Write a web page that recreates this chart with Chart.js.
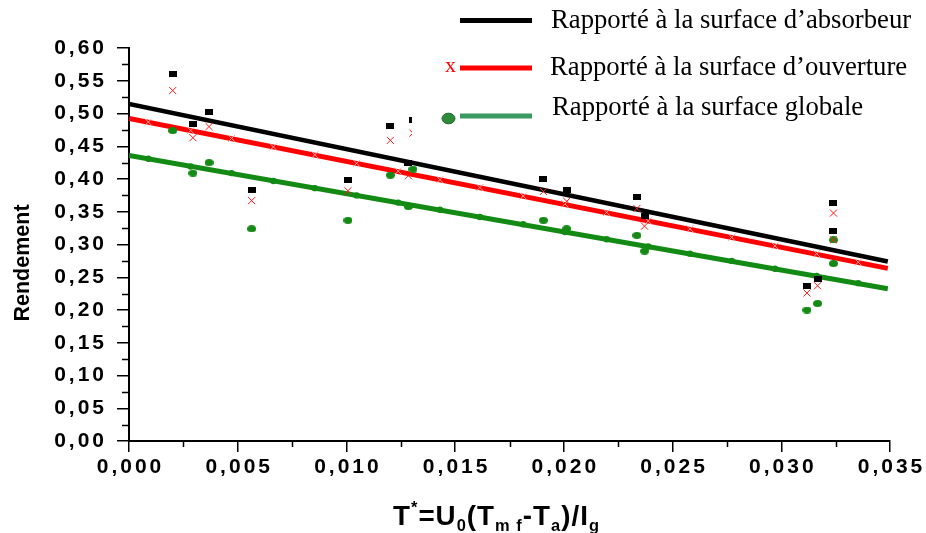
<!DOCTYPE html>
<html>
<head>
<meta charset="utf-8">
<script src="https://cdn.jsdelivr.net/npm/chart.js@4/dist/chart.umd.min.js"></script>
<style>
  html, body { margin: 0; padding: 0; background: #fff; }
  #wrap { position: relative; width: 926px; height: 533px; }
</style>
</head>
<body>
<div id="wrap"><canvas id="chart" width="926" height="533"></canvas></div>
<script>
// Mesures : T* et rendement rapporté aux trois surfaces
const tStar = [0.00201, 0.00294, 0.00368, 0.00564, 0.01007, 0.01202, 0.01285, 0.01306,
               0.01906, 0.02013, 0.02336, 0.02371, 0.03118, 0.03167, 0.0324, 0.0324];
const rendAbsorbeur = [0.560, 0.484, 0.503, 0.383, 0.399, 0.481, 0.424, 0.490,
                       0.400, 0.383, 0.372, 0.344, 0.237, 0.248, 0.364, 0.321];
const rendOuverture = [0.535, 0.463, 0.480, 0.367, 0.382, 0.459, 0.405, 0.470,
                       0.381, 0.366, 0.355, 0.328, 0.226, 0.237, 0.348, 0.307];
const rendGlobale = [0.474, 0.409, 0.425, 0.324, 0.337, 0.406, 0.358, 0.415,
                     0.337, 0.324, 0.314, 0.290, 0.200, 0.210, 0.307, 0.271];

// Droites de régression (extrémités)
const fitX = [0, 0.0349];
const fitAbsorbeur = [0.5145, 0.274];
const fitOuverture = [0.4925, 0.2635];
const fitGlobale = [0.436, 0.2325];

// Symboles posés le long des droites
const fitMarkX = [0.00089, 0.00284, 0.00472, 0.00664, 0.00855, 0.01047, 0.01238, 0.0143, 0.01614,
                  0.01813, 0.02005, 0.02197, 0.02388, 0.0258, 0.02772, 0.02971, 0.03163, 0.03354];
const fitMarkOuverture = [0.487, 0.474, 0.462, 0.449, 0.437, 0.424, 0.412, 0.399, 0.387,
                          0.374, 0.362, 0.349, 0.336, 0.324, 0.311, 0.298, 0.286, 0.273];
const fitMarkGlobale = [0.431, 0.419, 0.409, 0.397, 0.386, 0.375, 0.364, 0.353, 0.342,
                        0.331, 0.319, 0.308, 0.297, 0.286, 0.275, 0.263, 0.252, 0.241];

const legendLabels = [
  'Rapporté à la surface d\u2019absorbeur',
  'Rapporté à la surface d\u2019ouverture',
  'Rapporté à la surface globale'
];

const GREEN = '#138a13';
const SANS = '"Liberation Sans", Arial, Helvetica, sans-serif';

function pts(xs, ys) {
  return xs.map((x, i) => ({ x: x, y: ys[i] }));
}

// small filled shapes used as point styles
function markerCanvas(w, h, draw) {
  const c = document.createElement('canvas');
  c.width = w; c.height = h;
  draw(c.getContext('2d'), w, h);
  return c;
}
const squareMark = markerCanvas(8, 6, (g, w, h) => { g.fillStyle = '#000'; g.fillRect(0, 0, w, h); });
const dotMark = markerCanvas(9, 7, (g, w, h) => {
  g.fillStyle = GREEN;
  g.beginPath(); g.ellipse(w / 2, h / 2, w / 2, h / 2, 0, 0, Math.PI * 2); g.fill();
});

// minor ticks, axis titles and the boxed legend
const decorPlugin = {
  id: 'decor',
  beforeDraw(chart) {
    chart.ctx.letterSpacing = '3px';
  },
  afterDraw(chart) {
    const ctx = chart.ctx;
    const xs = chart.scales.x, ys = chart.scales.y;
    const area = chart.chartArea;
    ctx.save();
    ctx.letterSpacing = '0px';

    // minor ticks
    ctx.strokeStyle = '#000';
    ctx.lineWidth = 1.5;
    ctx.beginPath();
    for (let v = 0.025; v < 0.6; v += 0.05) {
      const py = Math.round(ys.getPixelForValue(v)) + 0.5;
      ctx.moveTo(area.left, py); ctx.lineTo(area.left - 7, py);
    }
    for (let v = 0.0025; v < 0.035; v += 0.005) {
      const px = Math.round(xs.getPixelForValue(v)) + 0.5;
      ctx.moveTo(px, area.bottom); ctx.lineTo(px, area.bottom + 6);
    }
    ctx.stroke();

    // y title
    ctx.fillStyle = '#000';
    ctx.font = 'bold 21.5px ' + SANS;
    ctx.textAlign = 'center';
    ctx.textBaseline = 'middle';
    ctx.save();
    ctx.translate(23, 263);
    ctx.rotate(-Math.PI / 2);
    ctx.fillText('Rendement', 0, 0);
    ctx.restore();

    // x title with sub/superscripts, narrowed horizontally
    const parts = [
      ['T', 0], ['*', -1], ['=U', 0], ['0', 1], ['(T', 0], ['m f', 1],
      ['-T', 0], ['a', 1], [')/I', 0], ['g', 1]
    ];
    const mainFont = 'bold 27px ' + SANS;
    const smallFont = 'bold 16px ' + SANS;
    ctx.letterSpacing = '1px';
    ctx.textAlign = 'left';
    ctx.textBaseline = 'alphabetic';
    let total = 0;
    parts.forEach(p => { ctx.font = p[1] ? smallFont : mainFont; total += ctx.measureText(p[0]).width; });
    const sx = 207 / total;
    ctx.save();
    ctx.translate(393, 525);
    ctx.scale(sx, 1);
    let cx = 0;
    parts.forEach(p => {
      ctx.font = p[1] ? smallFont : mainFont;
      const dy = p[1] === 1 ? 6 : (p[1] === -1 ? -12 : 0);
      ctx.fillText(p[0], cx, dy);
      cx += ctx.measureText(p[0]).width;
    });
    ctx.restore();
    ctx.letterSpacing = '0px';

    // legend box
    ctx.fillStyle = '#fff';
    ctx.fillRect(412, 0, chart.width - 412, 141);
    ctx.lineCap = 'butt';
    ctx.lineWidth = 5;
    ctx.strokeStyle = '#000';
    ctx.beginPath(); ctx.moveTo(460, 20.5); ctx.lineTo(532, 20.5); ctx.stroke();
    ctx.strokeStyle = '#ff0000';
    ctx.beginPath(); ctx.moveTo(460, 68); ctx.lineTo(532, 68); ctx.stroke();
    ctx.strokeStyle = '#3a9a62';
    ctx.beginPath(); ctx.moveTo(460, 116); ctx.lineTo(532, 116); ctx.stroke();

    ctx.fillStyle = '#2e8b3a';
    ctx.strokeStyle = '#1d6b27';
    ctx.lineWidth = 1;
    ctx.beginPath(); ctx.ellipse(448.5, 118.5, 6.5, 5.3, 0, 0, Math.PI * 2); ctx.fill(); ctx.stroke();

    ctx.font = '22px "Liberation Serif", "Times New Roman", serif';
    ctx.textBaseline = 'alphabetic';
    ctx.fillStyle = '#ff0000';
    ctx.fillText('x', 445, 71.5);
    ctx.font = '26.7px "Liberation Serif", "Times New Roman", serif';
    ctx.fillStyle = '#000';
    ctx.fillText(legendLabels[0], 551, 27.5);
    ctx.fillText(legendLabels[1], 550, 75);
    ctx.fillText(legendLabels[2], 552, 115);
    ctx.restore();
  }
};

new Chart(document.getElementById('chart'), {
  type: 'scatter',
  data: {
    datasets: [
      { label: legendLabels[0], data: pts(tStar, rendAbsorbeur), pointStyle: squareMark, pointRadius: 4 },
      { label: legendLabels[1], data: pts(tStar, rendOuverture), pointStyle: 'crossRot', pointRadius: 5,
        borderColor: '#ff1a1a', borderWidth: 1 },
      { label: legendLabels[2], data: pts(tStar, rendGlobale), pointStyle: dotMark, pointRadius: 4 },
      { data: pts(fitMarkX, fitMarkOuverture), pointStyle: 'crossRot', pointRadius: 5,
        borderColor: '#ffa0a0', borderWidth: 1 },
      { data: pts(fitMarkX, fitMarkGlobale), pointStyle: 'circle', pointRadius: 3.2,
        backgroundColor: GREEN, borderColor: GREEN, borderWidth: 0 },
      { data: pts(fitX, fitAbsorbeur), showLine: true, pointRadius: 0, borderColor: '#000', borderWidth: 4.5 },
      { data: pts(fitX, fitOuverture), showLine: true, pointRadius: 0, borderColor: '#ff0000', borderWidth: 5 },
      { data: pts(fitX, fitGlobale), showLine: true, pointRadius: 0, borderColor: GREEN, borderWidth: 5 }
    ]
  },
  options: {
    responsive: false,
    animation: false,
    devicePixelRatio: 1,
    layout: { padding: { top: 48, right: 36, left: 0, bottom: 0 } },
    plugins: { legend: { display: false }, tooltip: { enabled: false } },
    scales: {
      x: {
        type: 'linear', min: 0, max: 0.035,
        afterFit: s => { s.height = 92; },
        border: { display: true, color: '#000', width: 2 },
        grid: { drawOnChartArea: false, drawTicks: true, tickLength: 11, color: '#000', lineWidth: 1.5 },
        ticks: {
          stepSize: 0.005, color: '#000', padding: 3, labelOffset: 1.5, maxRotation: 0,
          font: { family: SANS, size: 21, weight: 'bold' },
          callback: v => v.toFixed(3).replace('.', ',')
        }
      },
      y: {
        type: 'linear', min: 0, max: 0.6,
        afterFit: s => { s.width = 129; },
        border: { display: true, color: '#000', width: 2 },
        grid: { drawOnChartArea: false, drawTicks: true, tickLength: 12, color: '#000', lineWidth: 1.5 },
        ticks: {
          stepSize: 0.05, color: '#000', padding: 10,
          font: { family: SANS, size: 21, weight: 'bold' },
          callback: v => v.toFixed(2).replace('.', ',')
        }
      }
    }
  },
  plugins: [decorPlugin]
});
</script>
</body>
</html>
